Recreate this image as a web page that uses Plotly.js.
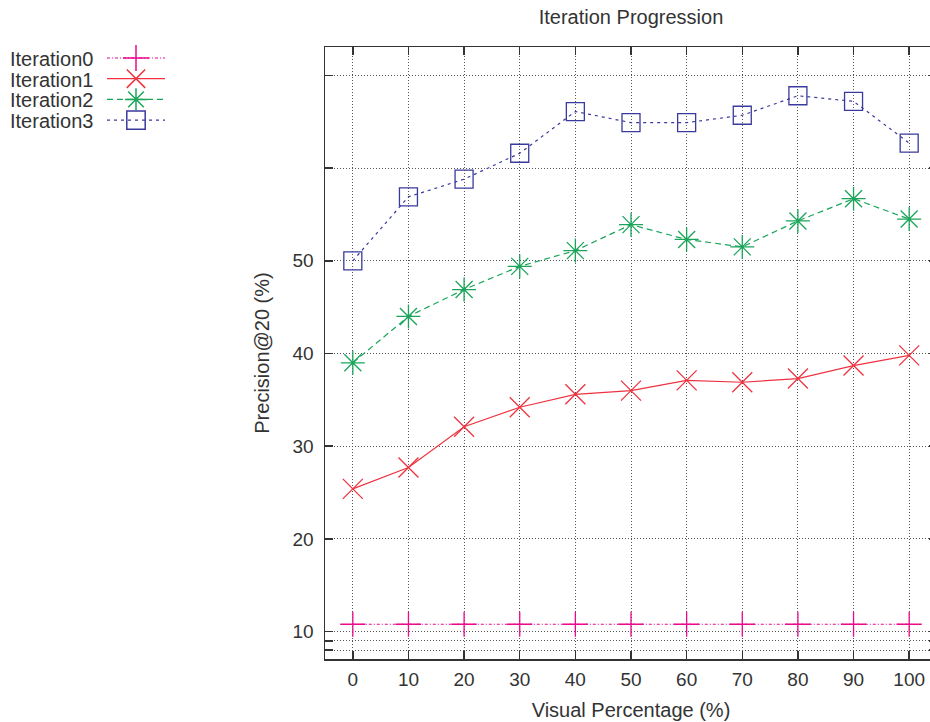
<!DOCTYPE html>
<html><head><meta charset="utf-8">
<script src="https://cdn.plot.ly/plotly-3.0.1.min.js"></script>
<style>html,body{margin:0;padding:0;overflow:hidden;background:#fff;width:930px;height:722px}#chart{width:937px;height:722px}</style>
</head><body><div id="chart"></div>
<script>
const xValues = [0,10,20,30,40,50,60,70,80,90,100];
const iteration0 = [10.8,10.8,10.8,10.8,10.8,10.8,10.8,10.8,10.8,10.8,10.8];
const iteration1 = [25.4,27.7,32.1,34.2,35.6,36.0,37.1,36.9,37.3,38.7,39.8];
const iteration2 = [39.0,44.0,46.9,49.4,51.1,53.9,52.3,51.5,54.3,56.7,54.5];
const iteration3 = [50.0,56.9,58.8,61.6,66.1,64.9,64.9,65.7,67.8,67.2,62.7];
const seriesNames = ['Iteration0','Iteration1','Iteration2','Iteration3'];
const yTickVals = [8,9,10,20,30,40,50,60,70];
const yTickText = ['','','10','20','30','40','50','',''];
const xTickText = ['0','10','20','30','40','50','60','70','80','90','100'];

const seriesData = [iteration0, iteration1, iteration2, iteration3];
const styles = [
  {color:'#ec0a8c', dash:'3px,2px,1px,2px', symbol:'cross-thin-open', size:18},
  {color:'#ee3340', dash:'solid', symbol:'x-thin-open', size:20},
  {color:'#1aa55a', dash:'6px,4px', symbol:'asterisk-open', size:20},
  {color:'#3a3a9c', dash:'3px,4px', symbol:'square-open', size:18}
];

const traces = seriesData.map((ys, i) => ({
  type:'scatter', mode:'lines+markers', name:seriesNames[i],
  x:xValues, y:ys,
  line:{color:styles[i].color, width:1.2, dash:styles[i].dash},
  marker:{symbol:styles[i].symbol, size:styles[i].size, color:styles[i].color,
          line:{color:styles[i].color, width:1.3}}
}));

const axisCommon = {
  ticks:'inside', ticklen:8, tickwidth:1.5, tickcolor:'#333',
  showline:true, linecolor:'#333', linewidth:1.5, mirror:'allticks',
  showgrid:true, gridcolor:'#555', gridwidth:1, griddash:'1px,2px',
  zeroline:false, tickfont:{size:19, color:'#333'}
};

const layout = {
  width:937, height:722,
  margin:{l:325, r:0, t:47, b:63},
  paper_bgcolor:'#fff', plot_bgcolor:'#fff',
  font:{family:'"Liberation Sans", Arial, sans-serif', size:20, color:'#333'},
  title:{text:'Iteration Progression', x:0.5, xref:'paper', xanchor:'center',
         y:1-17/722, yref:'container', yanchor:'middle', font:{size:20, color:'#333'}},
  xaxis:Object.assign({}, axisCommon, {
    range:[-5,105], tickvals:xValues, ticktext:xTickText, ticklabelstandoff:3,
    title:{text:'Visual Percentage (%)', standoff:13, font:{size:20, color:'#333'}}
  }),
  yaxis:Object.assign({}, axisCommon, {
    range:[7.05,73.06], tickvals:yTickVals, ticktext:yTickText, ticklabelstandoff:6,
    title:{text:'Precision@20 (%)', standoff:17, font:{size:20, color:'#333'}}
  }),
  showlegend:true,
  legend:{xref:'container', yref:'container', x:0, y:1, xanchor:'left', yanchor:'top',
          bgcolor:'rgba(0,0,0,0)', borderwidth:0, font:{size:20, color:'#333'}}
};

function fixLegend(gd){
  const legend = gd.querySelector('g.legend');
  if(!legend) return;
  legend.querySelectorAll('[clip-path]').forEach(e => e.removeAttribute('clip-path'));
  const svgEl = legend.ownerSVGElement;
  const rootM = svgEl.getScreenCTM();
  const items = legend.querySelectorAll('g.traces');
  items.forEach((item, i) => {
    const parentM = item.parentNode.getScreenCTM();
    const px = parentM.e - rootM.e, py = parentM.f - rootM.f;
    const cy = 58 + 20.7 * i;
    item.setAttribute('transform', 'translate(' + (-px) + ',' + (cy - py) + ')');
    const text = item.querySelector('text.legendtext');
    if(text){
      text.setAttribute('x', 10);
      text.setAttribute('text-anchor', 'start');
      text.querySelectorAll('tspan').forEach(t => { if(t.hasAttribute('x')) t.setAttribute('x', 10); });
    }
    item.querySelectorAll('path.js-line').forEach(p => p.setAttribute('d', 'M107,0h58'));
    const sym = item.querySelector('g.legendsymbols');
    if(sym) sym.setAttribute('transform', 'translate(136,0) scale(1.15) translate(-20,0)');
  });
}

const gd = document.getElementById('chart');
Plotly.newPlot(gd, traces, layout, {staticPlot:true, displayModeBar:false}).then(() => fixLegend(gd));
</script>
</body></html>
